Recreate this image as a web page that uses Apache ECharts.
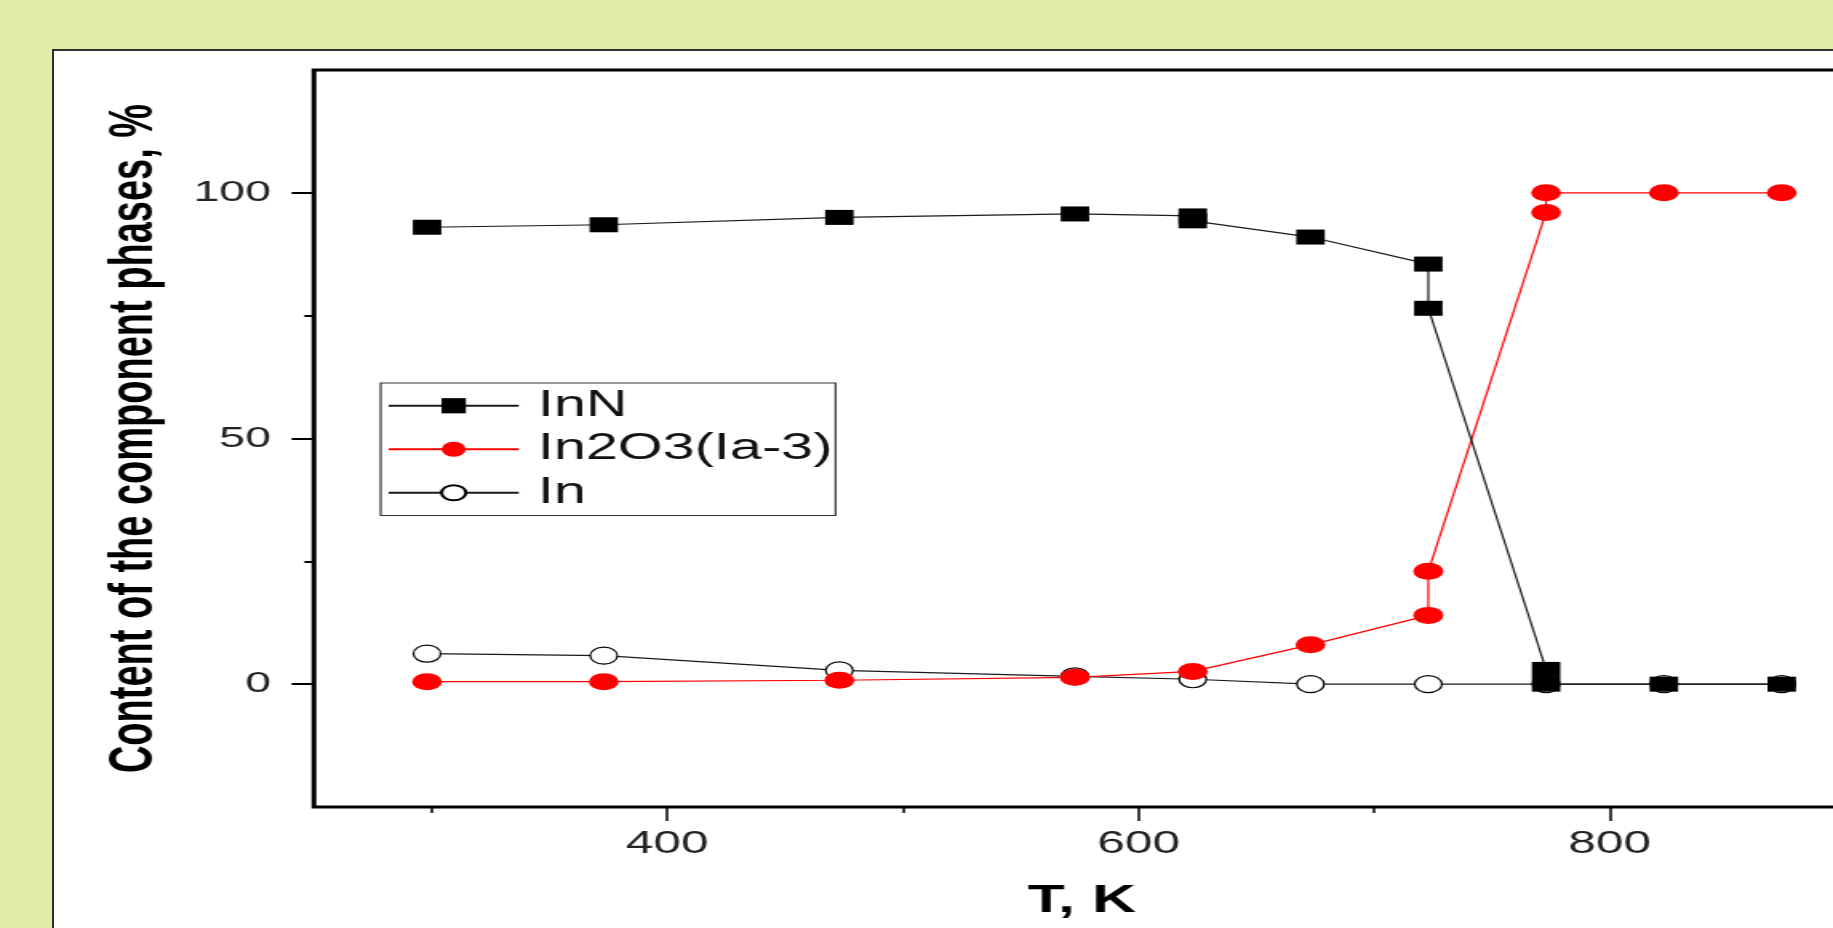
<!DOCTYPE html>
<html>
<head>
<meta charset="utf-8">
<script src="https://cdn.jsdelivr.net/npm/echarts@6/dist/echarts.min.js"></script>
<style>
  html, body { margin: 0; padding: 0; width: 1833px; height: 928px; overflow: hidden; background: #e0eda8; }
  #panel { position: absolute; left: 52px; top: 49px; width: 1830px; height: 920px; background: #fff; border: 2px solid #2e2e2e; }
  /* the figure is drawn narrow and widened horizontally; its right part runs past the page edge */
  #chart { position: absolute; left: 0; top: 0; width: 1300px; height: 928px; transform: scaleX(1.59948); transform-origin: 0 0; }
</style>
</head>
<body>
<div id="panel"></div>
<div id="chart"></div>
<script>
// Phase content (%) versus annealing temperature (K)
const seriesNames = ['InN', 'In2O3(Ia-3)', 'In'];

const inN_T   = [298, 373, 473, 573, 623, 623, 673, 723, 723, 773, 773, 823, 873];
const inN_val = [93.0, 93.5, 95.0, 95.7, 95.3, 94.3, 91.0, 85.5, 76.5, 3.0, 0, 0, 0];

const in2o3_T   = [298, 373, 473, 573, 623, 673, 723, 723, 773, 773, 823, 873];
const in2o3_val = [0.5, 0.5, 0.8, 1.4, 2.6, 8.0, 14.0, 23.0, 96.0, 100, 100, 100];

const in_T   = [298, 373, 473, 573, 623, 673, 723, 773, 823, 873];
const in_val = [6.2, 5.8, 2.8, 1.6, 1.0, 0, 0, 0, 0, 0];

const xMajorTicks = [400, 600, 800];
const xMinorTicks = [300, 500, 700];
const yMajorTicks = [0, 50, 100];
const yMinorTicks = [25, 75];

const pairs = (xs, ys) => xs.map((x, i) => [x, ys[i]]);
const ellipse = 'path://M0,10A10,10,0,1,1,20,10A10,10,0,1,1,0,10Z';
const sans = '"Liberation Sans", Arial, sans-serif';

const chart = echarts.init(document.getElementById('chart'), null, { width: 1300, height: 928 });

chart.setOption({
  animation: false,
  backgroundColor: 'transparent',
  grid: {
    left: 196.3, top: 70, width: 1031, bottom: 121,
    outerBoundsMode: 'none',
    containLabel: false,
    show: true, borderColor: '#000', borderWidth: 3, backgroundColor: 'transparent'
  },
  legend: {
    orient: 'vertical',
    left: 238, top: 383,
    padding: [1, 2, 1, 4],
    itemGap: 0,
    itemWidth: 81.3,
    itemHeight: 19,
    backgroundColor: '#fff',
    borderColor: '#333',
    borderWidth: 1.2,
    selectedMode: false,
    data: seriesNames,
    textStyle: { fontFamily: sans, fontSize: 36, lineHeight: 43.5, color: '#111', padding: [0, 0, 0, 7] }
  },
  xAxis: [
    {
      type: 'value', min: 250, max: 950, position: 'bottom',
      axisLine: { show: false, onZero: false },
      axisTick: { show: true, customValues: xMajorTicks, length: 14, lineStyle: { color: '#000', width: 1.5 } },
      axisLabel: { customValues: xMajorTicks, fontFamily: sans, fontSize: 31, lineHeight: 31, margin: 22, color: '#222' },
      splitLine: { show: false },
      name: 'T, K', nameLocation: 'middle', nameGap: 76,
      nameTextStyle: { fontFamily: sans, fontSize: 38, lineHeight: 38, fontWeight: 'bold', color: '#000', padding: [0, 71, 0, 0] }
    },
    {
      type: 'value', min: 250, max: 950, position: 'bottom',
      axisLine: { show: false, onZero: false },
      axisTick: { show: true, customValues: xMinorTicks, length: 6, lineStyle: { color: '#000', width: 1.5 } },
      axisLabel: { show: false },
      splitLine: { show: false }
    }
  ],
  yAxis: [
    {
      type: 'value', min: -25, max: 125, position: 'left',
      axisLine: { show: false, onZero: false },
      axisTick: { show: true, customValues: yMajorTicks, length: 14, lineStyle: { color: '#000', width: 2 } },
      axisLabel: { customValues: yMajorTicks, fontFamily: sans, fontSize: 29, margin: 27, color: '#222' },
      splitLine: { show: false },
      name: 'Content of the component phases, %', nameLocation: 'middle', nameGap: 93,
      nameTextStyle: { fontFamily: sans, fontSize: 38, lineHeight: 38, fontWeight: 'bold', color: '#000' }
    },
    {
      type: 'value', min: -25, max: 125, position: 'left',
      axisLine: { show: false, onZero: false },
      axisTick: { show: true, customValues: yMinorTicks, length: 6, lineStyle: { color: '#000', width: 2 } },
      axisLabel: { show: false },
      splitLine: { show: false }
    }
  ],
  series: [
    {
      name: seriesNames[0], type: 'line', z: 4,
      data: pairs(inN_T, inN_val),
      symbol: 'rect', symbolSize: [17.8, 15],
      itemStyle: { color: '#000' },
      lineStyle: { color: '#1a1a1a', width: 1.2 },
      emphasis: { disabled: true }
    },
    {
      name: seriesNames[1], type: 'line', z: 3,
      data: pairs(in2o3_T, in2o3_val),
      symbol: ellipse, symbolSize: [18.8, 17],
      itemStyle: { color: '#ff0000' },
      lineStyle: { color: '#ff0000', width: 1.2 },
      emphasis: { disabled: true }
    },
    {
      name: seriesNames[2], type: 'line', z: 2,
      data: pairs(in_T, in_val),
      symbol: ellipse, symbolSize: [17, 17],
      itemStyle: { color: '#fff', borderColor: '#000', borderWidth: 1.2 },
      lineStyle: { color: '#1a1a1a', width: 1.2 },
      emphasis: { disabled: true }
    }
  ]
});
</script>
</body>
</html>
